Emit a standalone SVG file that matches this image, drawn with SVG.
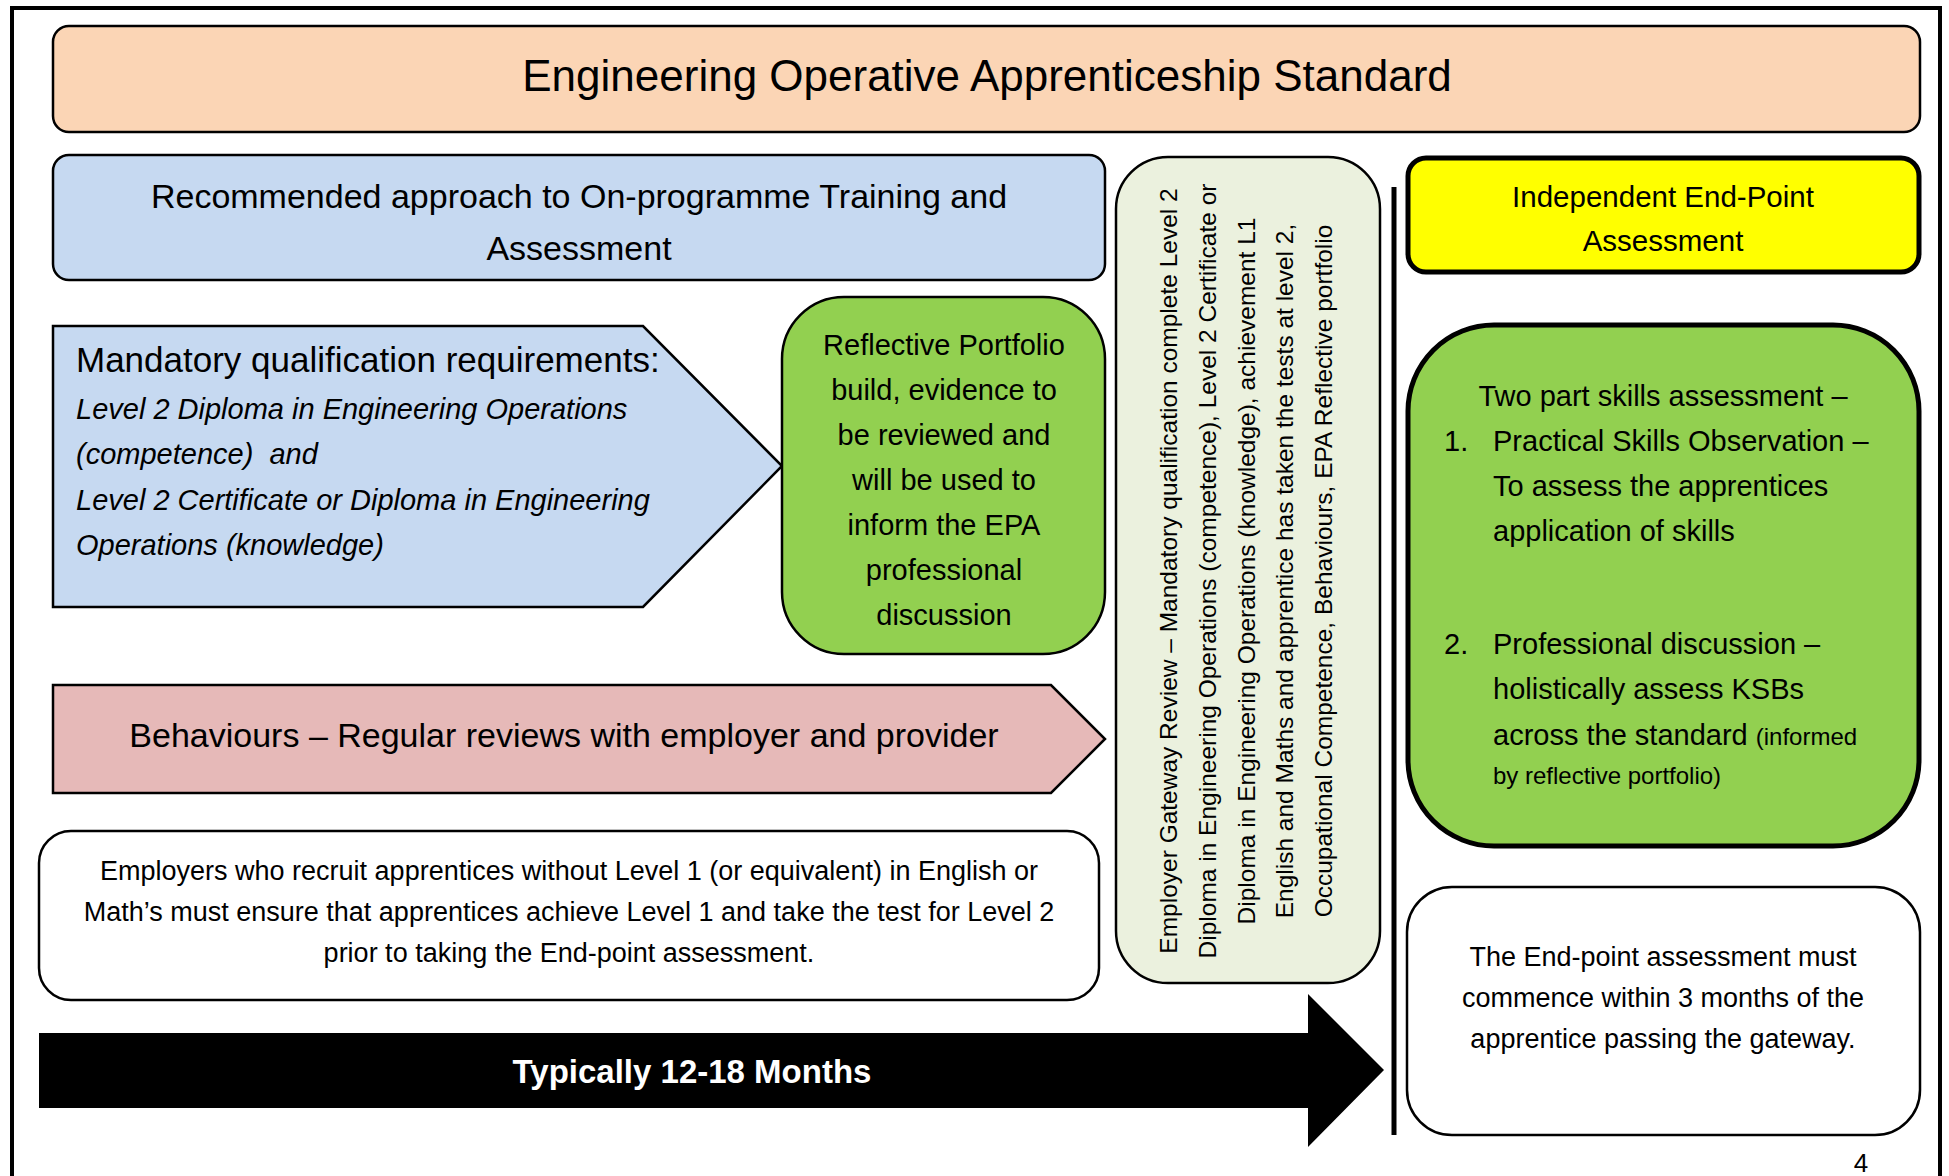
<svg xmlns="http://www.w3.org/2000/svg" width="1949" height="1176" viewBox="0 0 1949 1176">
<style>
text{font-family:"Liberation Sans",Arial,sans-serif;fill:#000}
.box{stroke:#000;stroke-width:2.5}
.thick{stroke:#000;stroke-width:5}
.c{text-anchor:middle}
.t34{font-size:34px}
.t29{font-size:29px}
.t27{font-size:27px}
.gw{font-size:24.5px;text-anchor:middle}
.it{font-style:italic;font-size:29px}
</style>
<rect x="0" y="0" width="1949" height="1176" fill="#fff"/>
<path d="M12,1180 V8 H1940 V1180" fill="none" stroke="#000" stroke-width="4"/>

<g id="title">
<rect class="box" x="53" y="26" width="1867" height="106" rx="16" fill="#FBD5B5"/>
<text class="c" x="987" y="91" font-size="44">Engineering Operative Apprenticeship Standard</text>
</g>

<g id="onprogramme-heading">
<rect class="box" x="53" y="155" width="1052" height="125" rx="16" fill="#C6D9F1"/>
<text class="c t34" x="579" y="208">Recommended approach to On-programme Training and</text>
<text class="c t34" x="579" y="260">Assessment</text>
</g>

<g id="mandatory">
<polygon class="box" points="53,326 643,326 782,466 643,607 53,607" fill="#C6D9F1"/>
<text x="76" y="372" font-size="35">Mandatory qualification requirements:</text>
<text class="it" x="76" y="419">Level 2 Diploma in Engineering Operations</text>
<text class="it" x="76" y="464">(competence)&#160; and</text>
<text class="it" x="76" y="510">Level 2 Certificate or Diploma in Engineering</text>
<text class="it" x="76" y="555">Operations (knowledge)</text>
</g>

<g id="reflective-portfolio">
<rect class="box" x="782" y="297" width="323" height="357" rx="62" fill="#92D050"/>
<text class="c t29" x="944" y="355" font-size="29.5">Reflective Portfolio</text>
<text class="c t29" x="944" y="400">build, evidence to</text>
<text class="c t29" x="944" y="445">be reviewed and</text>
<text class="c t29" x="944" y="490">will be used to</text>
<text class="c t29" x="944" y="535">inform the EPA</text>
<text class="c t29" x="944" y="580">professional</text>
<text class="c t29" x="944" y="625">discussion</text>
</g>

<g id="behaviours">
<polygon class="box" points="53,685 1051,685 1105,739 1051,793 53,793" fill="#E6B9B8"/>
<text class="c t34" x="564" y="747">Behaviours – Regular reviews with employer and provider</text>
</g>

<g id="english-maths-note">
<rect class="box" x="39" y="831" width="1060" height="169" rx="32" fill="#fff"/>
<text class="c t27" x="569" y="880">Employers who recruit apprentices without Level 1 (or equivalent) in English or</text>
<text class="c t27" x="569" y="921">Math’s must ensure that apprentices achieve Level 1 and take the test for Level 2</text>
<text class="c t27" x="569" y="962">prior to taking the End-point assessment.</text>
</g>

<g id="timeline">
<polygon points="39,1033 1308,1033 1308,994 1384,1070 1308,1147 1308,1108 39,1108" fill="#000"/>
<text class="c" x="692" y="1083" font-size="33" font-weight="bold" style="fill:#fff">Typically 12-18 Months</text>
</g>

<g id="gateway">
<rect class="box" x="1116" y="157" width="264" height="826" rx="52" fill="#EBF1DE"/>
<text class="gw" transform="translate(1177,571) rotate(-90)">Employer Gateway Review – Mandatory qualification complete Level 2</text>
<text class="gw" transform="translate(1216,571) rotate(-90)">Diploma in Engineering Operations (competence), Level 2 Certificate or</text>
<text class="gw" transform="translate(1255,571) rotate(-90)">Diploma in Engineering Operations (knowledge), achievement L1</text>
<text class="gw" transform="translate(1293,571) rotate(-90)">English and Maths and apprentice has taken the tests at level 2,</text>
<text class="gw" transform="translate(1332,571) rotate(-90)">Occupational Competence, Behaviours, EPA Reflective portfolio</text>
</g>

<g id="connectors">
<line x1="1394" y1="187" x2="1394" y2="1135" stroke="#000" stroke-width="5"/>
</g>

<g id="epa-heading">
<rect class="thick" x="1408" y="158" width="511" height="114" rx="18" fill="#FFFF00"/>
<text class="c" x="1663" y="207" font-size="29.5">Independent End-Point</text>
<text class="c" x="1663" y="251" font-size="29.5">Assessment</text>
</g>

<g id="skills-assessment">
<rect class="thick" x="1408" y="325" width="511" height="521" rx="86" fill="#92D050"/>
<text class="c t29" x="1663" y="406">Two part skills assessment –</text>
<text class="t29" x="1444" y="451">1.</text>
<text class="t29" x="1493" y="451">Practical Skills Observation –</text>
<text class="t29" x="1493" y="496">To assess the apprentices</text>
<text class="t29" x="1493" y="541">application of skills</text>
<text class="t29" x="1444" y="654">2.</text>
<text class="t29" x="1493" y="654">Professional discussion –</text>
<text class="t29" x="1493" y="699">holistically assess KSBs</text>
<text class="t29" x="1493" y="745">across the standard <tspan font-size="24">(informed</tspan></text>
<text x="1493" y="784" font-size="24">by reflective portfolio)</text>
</g>

<g id="epa-timing">
<rect class="box" x="1407" y="887" width="513" height="248" rx="45" fill="#fff"/>
<text class="c t27" x="1663" y="966">The End-point assessment must</text>
<text class="c t27" x="1663" y="1007">commence within 3 months of the</text>
<text class="c t27" x="1663" y="1048">apprentice passing the gateway.</text>
</g>

<text class="c" x="1861" y="1172" font-size="26">4</text>
</svg>
